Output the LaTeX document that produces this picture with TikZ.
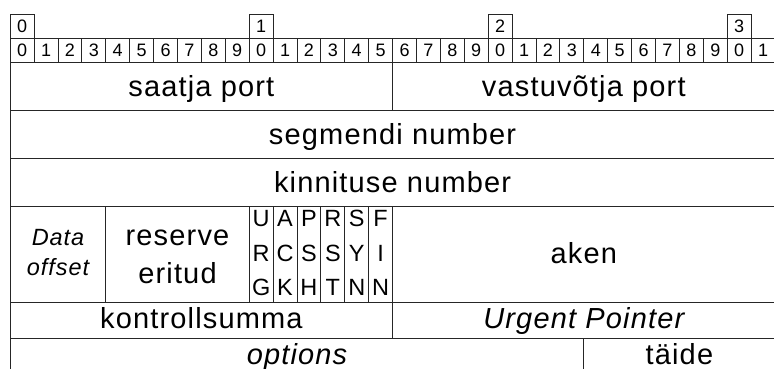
\documentclass[tikz,border=0pt]{standalone}
\usepackage{fontspec}
\setmainfont{Liberation Sans}
\newfontfamily\bigfam[LetterSpace=4]{Liberation Sans}
\newfontfamily\smallfam[LetterSpace=4]{Liberation Sans}
\newcommand\fieldrect[4]{\draw[fr] ({10.2+23.9*(#1)},#3) rectangle ({10.2+23.9*(#2)},#4);}
\begin{document}
\begin{tikzpicture}[x=1pt,y=-1pt,
  fr/.style={draw=black!85, line width=0.9pt},
  cell/.style={draw=black!85, line width=0.9pt, inner sep=0pt, outer sep=0pt,
    minimum width=23.9pt, minimum height=24pt,
    font=\fontsize{18}{18}\selectfont, text height=12.6pt, text depth=0pt},
  big/.style={anchor=base, inner sep=0pt, font=\bigfam\fontsize{29}{34}\selectfont},
  bigit/.style={anchor=base, inner sep=0pt, font=\bigfam\itshape\fontsize{29}{34}\selectfont},
  small/.style={anchor=base, inner sep=0pt, font=\smallfam\fontsize{23.5}{25}\selectfont},
  smallit/.style={anchor=base, inner sep=0pt, font=\smallfam\itshape\fontsize{23.5}{25}\selectfont}]
\useasboundingbox (0,0) rectangle (774,369);
\clip (0,0) rectangle (774,369);
% bit header
\foreach \i/\t in {0/0,10/1,20/2,30/3}
  \node[cell] (t\i) at ({10.2+23.9*\i+11.95},26) {\t};
\foreach \i in {0,...,31}{
  \pgfmathtruncatemacro\d{mod(\i,10)}
  \node[cell] (b\i) at ({10.2+23.9*\i+11.95},50) {\d};
}
% field boxes
\fieldrect{0}{16}{62}{110}
\fieldrect{16}{32}{62}{110}
\fieldrect{0}{32}{110}{158}
\fieldrect{0}{32}{158}{206}
\fieldrect{0}{4}{206}{302}
\fieldrect{4}{10}{206}{302}
\foreach \i in {0,...,5}{ \fieldrect{10+\i}{11+\i}{206}{302} }
\fieldrect{16}{32}{206}{302}
\fieldrect{0}{16}{302}{338}
\fieldrect{16}{32}{302}{338}
\fieldrect{0}{24}{338}{374}
\fieldrect{24}{32}{338}{374}
% labels
\node[big] (sp) at ({10.2+23.9*8},96.3) {saatja port};
\node[big] (vp) at ({10.2+23.9*24},96.3) {vastuvõtja port};
\node[big] (sn) at ({10.2+23.9*16},144.3) {segmendi number};
\node[big] (kn) at ({10.2+23.9*16},192.3) {kinnituse number};
\node[smallit] (do1) at ({10.2+23.9*2},245) {Data};
\node[smallit] (do2) at ({10.2+23.9*2},275.7) {offset};
\node[big] (re1) at ({10.2+23.9*7},245.3) {reserve};
\node[big] (re2) at ({10.2+23.9*7},283.3) {eritud};
\foreach \i/\a/\b/\c in {0/U/R/G,1/A/C/K,2/P/S/H,3/R/S/T,4/S/Y/N,5/F/I/N}{
  \node[small] (fa\i) at ({10.2+23.9*(10.5+\i)},226.7) {\a};
  \node[small] (fb\i) at ({10.2+23.9*(10.5+\i)},261) {\b};
  \node[small] (fc\i) at ({10.2+23.9*(10.5+\i)},295) {\c};
}
\node[big] (ak) at ({10.2+23.9*24},263.3) {aken};
\node[big] (ks) at ({10.2+23.9*8},328.3) {kontrollsumma};
\node[bigit] (up) at ({10.2+23.9*24},328.3) {Urgent Pointer};
\node[bigit] (op) at ({10.2+23.9*12},364) {options};
\node[big] (ta) at ({10.2+23.9*28},364) {täide};
\end{tikzpicture}
\end{document}
